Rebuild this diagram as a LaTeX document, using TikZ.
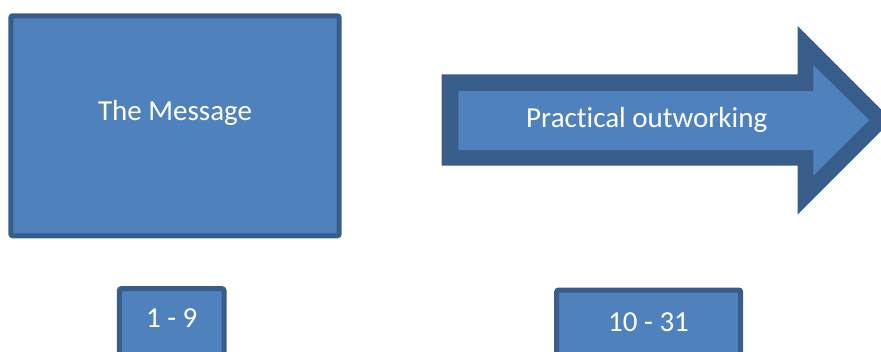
\documentclass[tikz,border=0pt]{standalone}
\usepackage{fontspec}
\setmainfont[Ligatures={NoCommon,NoRare}]{Carlito}
\definecolor{boxfill}{HTML}{4F81BD}
\definecolor{boxline}{HTML}{385D8A}
\begin{document}
\begin{tikzpicture}[x=1pt,y=-1pt,
  boxshape/.style={fill=boxfill,draw=boxline,line width=5pt,rounded corners=2pt},
  label/.style={text=white,font=\fontsize{29}{34}\selectfont,anchor=base,inner sep=0pt}]
\useasboundingbox (0,0) rectangle (881,351);
\clip (0,0) rectangle (881,351);
% message box
\draw[boxshape] (10.8,15.8) rectangle (339.2,235.8);
\node[label] (msg) at (175,120) {The Message};
% arrow
\fill[boxline] (441.7,74.3) -- (797.7,74.3) -- (797.7,26) -- (891.9,120.2)
  -- (797.7,214.3) -- (797.7,165.7) -- (441.7,165.7) -- cycle;
\fill[boxfill] (458.3,91) -- (813.3,91) -- (813.3,65) -- (869.3,120.2)
  -- (813.3,175.7) -- (813.3,150) -- (458.3,150) -- cycle;
\node[label] (arr) at (646.7,127.7) {Practical outworking};
% small boxes
\draw[boxshape] (119.3,288.7) rectangle (224,380);
\node[label] (a) at (171.7,327.7) {1 - 9};
\draw[boxshape] (556.7,290) rectangle (740.7,380);
\node[label] (b) at (648.5,331.7) {10 - 31};
\end{tikzpicture}
\end{document}
